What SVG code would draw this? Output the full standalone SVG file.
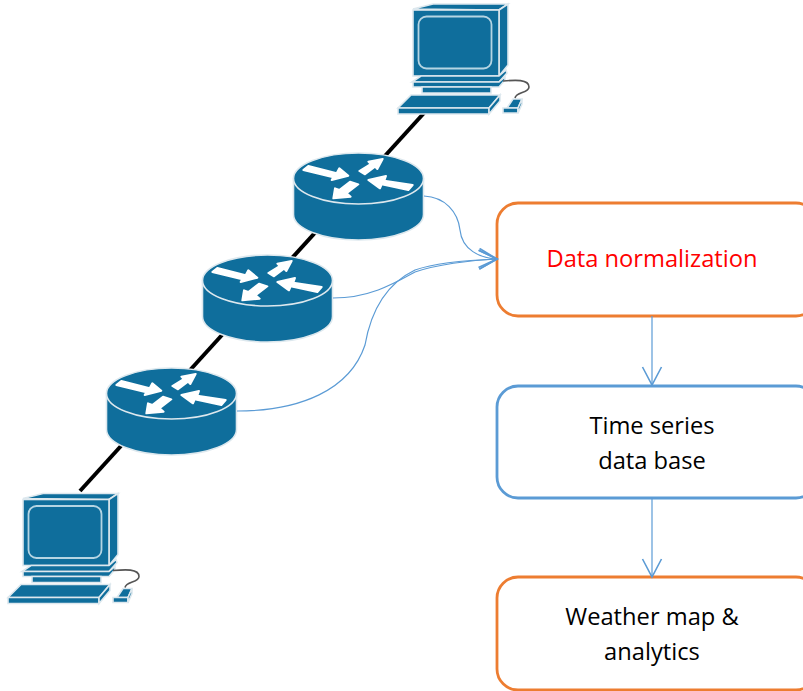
<svg xmlns="http://www.w3.org/2000/svg" width="803" height="691" viewBox="0 0 803 691">
<style>
.t{font-family:"Open Sans","Noto Sans",sans-serif;font-size:23.700px;text-anchor:middle;fill:#000}
.box{fill:#fff;stroke-width:2.8}
.cn{fill:none;stroke:#5B9BD5;stroke-width:1.2}
.b{fill:#0F6E9C;stroke:#DDE8EE;stroke-width:1.6}
.s{fill:none;stroke:#B5D5E3;stroke-width:1.8}
.w{fill:#fff;stroke:#fff;stroke-width:6;stroke-linejoin:round}
</style>
<defs>
<marker id="open" markerUnits="userSpaceOnUse" markerWidth="22" markerHeight="24" refX="19" refY="10.5" orient="auto"><path d="M1 1 L19 10.5 L1 20" fill="none" stroke="#5B9BD5" stroke-width="1.6"/></marker>
<g id="pc">
<polygon class="b" points="413,9 433,4 508,4 499,10"/>
<polygon class="b" points="499,10 508,4 508,65 499,76"/>
<rect class="b" x="413" y="10" width="86" height="66"/>
<rect class="s" x="418.500" y="16.500" width="73" height="52" rx="8"/>
<polygon class="b" points="421,76 499,76 506,70 507,73 499,82 412,82"/>
<polygon class="b" points="413,82 499,82 505,77 505,80 499,87 413,87"/>
<polygon class="b" points="422,87 491,87 491,93 422,93"/>
<polygon class="b" points="398,108 411,95 500,95 489,108"/>
<polygon class="b" points="398,108 489,108 489,114 398,114"/>
<polygon class="b" points="489,108 500,95 500,101 489,114"/>
<polygon class="b" points="507,108 513,99 522,99 518,108"/>
<polygon class="b" points="503,108 518,108 518,113 503,113"/>
<polygon class="b" points="518,108 522,99 522,104 518,113"/>
<path d="M503 81 C515 80 529 79 529 87 C529 93 516 92 515 98" fill="none" stroke="#555" stroke-width="1.6"/>
</g>
<g id="router">
<path class="b" d="M-65 0 V36 C-65 50 -36 61.500 0 61.500 C36 61.500 65 50 65 36 V0 Z"/>
<ellipse class="b" cx="0" cy="0" rx="65" ry="25.500"/>
<g transform="translate(-78.500,-33.500) scale(.3333)">
<polygon class="w" points="85,63 170,85 178,70 205,92 155,105 160,97 70,75"/>
<polygon class="w" points="308,42 265,50 272,57 238,78 255,88 285,65 292,72"/>
<polygon class="w" points="265,105 318,93 313,107 398,120 385,135 305,118 300,130"/>
<polygon class="w" points="160,160 165,130 178,135 210,110 235,118 200,145 212,155"/>
</g>
</g>
</defs>
<g id="connectors">
<path d="M424 113 L80 491" stroke="#000" stroke-width="4" fill="none"/>
</g>
<g id="pc-top"><use href="#pc"/></g>
<g id="pc-bottom"><use href="#pc" transform="translate(-390,489.500)"/></g>
<g id="router-1"><use href="#router" transform="translate(358.500,178.500)"/></g>
<g id="router-2"><use href="#router" transform="translate(267.500,280.500)"/></g>
<g id="router-3"><use href="#router" transform="translate(171.500,393.500)"/></g>
<g id="box-normalization"><rect class="box" x="497" y="203" width="320" height="113" rx="21" stroke="#ED7D31"/><text class="t" x="652" y="267" style="fill:#FF0000">Data normalization</text></g>
<g id="box-database"><rect class="box" x="497" y="386" width="320" height="112" rx="21" stroke="#5B9BD5"/><text class="t" x="652" y="434">Time series</text><text class="t" x="652" y="469">data base</text></g>
<g id="box-weather"><rect class="box" x="497" y="577" width="320" height="113" rx="21" stroke="#ED7D31"/><text class="t" x="652" y="625">Weather map &amp;</text><text class="t" x="652" y="660">analytics</text></g>
<g id="flow-connectors">
<path class="cn" d="M424 196 C445 197 458 212 460 230 C462 250 480 258 497 259" marker-end="url(#open)"/>
<path class="cn" d="M333 298 C370 298 395 283 415 272 C435 265 470 260 497 259" marker-end="url(#open)"/>
<path class="cn" d="M237 411 C300 411 350 390 365 345 C372 305 390 282 415 270 C435 263 470 260 497 259" marker-end="url(#open)"/>
<path class="cn" d="M652 316 V385" marker-end="url(#open)"/>
<path class="cn" d="M652 498 V577" marker-end="url(#open)"/>
</g>
</svg>
